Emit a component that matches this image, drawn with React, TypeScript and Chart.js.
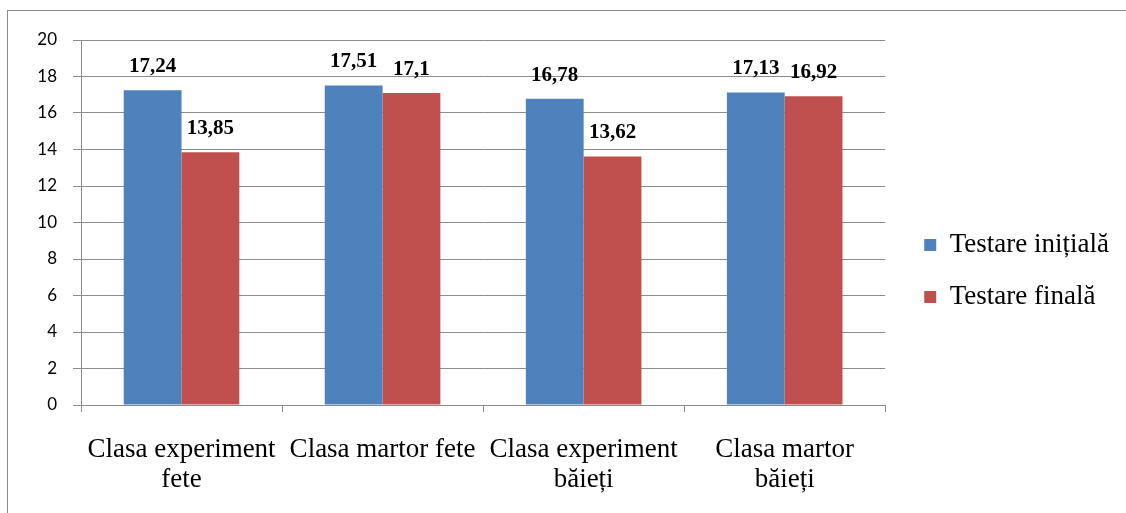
import React, { useEffect, useRef } from "react";
import { Chart, registerables } from "chart.js";

Chart.register(...registerables);

const categories: (string | string[])[] = [
  ["Clasa experiment", "fete"],
  "Clasa martor fete",
  ["Clasa experiment", "băieți"],
  ["Clasa martor", "băieți"],
];
const seriesNames = ["Testare inițială", "Testare finală"];
const initialValues = [17.24, 17.51, 16.78, 17.13];
const finalValues = [13.85, 17.1, 13.62, 16.92];
const initialLabels = ["17,24", "17,51", "16,78", "17,13"];
const finalLabels = ["13,85", "17,1", "13,62", "16,92"];
const yTicks = [0, 2, 4, 6, 8, 10, 12, 14, 16, 18, 20];

const BLUE = "#4F81BD";
const RED = "#C0504D";
const GRID = "#8c8c8c";

const valueLabelPlugin = {
  id: "valueLabels",
  afterDatasetsDraw(chart: any) {
    const ctx = chart.ctx;
    const labelSets = [initialLabels, finalLabels];
    ctx.save();
    ctx.font = "bold 21px 'Liberation Serif', 'Times New Roman', serif";
    ctx.fillStyle = "#000";
    ctx.textAlign = "center";
    ctx.textBaseline = "alphabetic";
    chart.data.datasets.forEach((_: any, di: number) => {
      const meta = chart.getDatasetMeta(di);
      meta.data.forEach((bar: any, i: number) => {
        ctx.fillText(labelSets[di][i], bar.x, bar.y - 18);
      });
    });
    ctx.restore();
  },
};

const legendShiftPlugin = {
  id: "legendShift",
  afterLayout(chart: any) {
    const lg = chart.legend;
    if (lg) {
      lg.left += 14;
      lg.right += 14;
    }
  },
};

export default function App() {
  const canvasRef = useRef<HTMLCanvasElement | null>(null);

  useEffect(() => {
    if (!canvasRef.current) return;
    const chart = new Chart(canvasRef.current, {
      type: "bar",
      data: {
        labels: categories,
        datasets: [
          {
            label: seriesNames[0],
            data: initialValues,
            backgroundColor: BLUE,
            borderWidth: 0,
            barPercentage: 1,
            categoryPercentage: 0.575,
          },
          {
            label: seriesNames[1],
            data: finalValues,
            backgroundColor: RED,
            borderWidth: 0,
            barPercentage: 1,
            categoryPercentage: 0.575,
          },
        ],
      },
      options: {
        responsive: false,
        animation: false,
        maintainAspectRatio: false,
        layout: { padding: { left: 0, top: 40, right: 21, bottom: 11 } },
        plugins: {
          legend: {
            position: "right",
            labels: {
              boxWidth: 12,
              boxHeight: 12,
              padding: 25,
              color: "#000",
              font: { family: "'Liberation Serif', 'Times New Roman', serif", size: 27 },
            },
          },
          tooltip: { enabled: false },
          title: { display: false },
        },
        scales: {
          x: {
            grid: {
              display: true,
              drawOnChartArea: false,
              drawTicks: true,
              tickLength: 7,
              color: GRID,
              offset: true,
            },
            border: { display: true, color: GRID },
            ticks: {
              autoSkip: false,
              maxRotation: 0,
              minRotation: 0,
              color: "#000",
              padding: 23,
              font: { family: "'Liberation Serif', 'Times New Roman', serif", size: 27, lineHeight: 1.11 },
            },
            afterFit(scale: any) {
              scale.height = 97;
            },
          },
          y: {
            min: 0,
            max: 20,
            afterBuildTicks(scale: any) {
              scale.ticks = yTicks.map((v) => ({ value: v }));
            },
            grid: {
              color: GRID,
              drawTicks: true,
              tickLength: 8,
            },
            border: { display: true, color: GRID },
            ticks: {
              color: "#000",
              padding: 16,
              font: { family: "Lato, 'Open Sans', sans-serif", size: 17 },
            },
            afterFit(scale: any) {
              scale.width = 81;
            },
          },
        },
      },
      plugins: [valueLabelPlugin, legendShiftPlugin],
    });
    return () => chart.destroy();
  }, []);

  return (
    <div
      style={{
        position: "fixed",
        left: 0,
        top: 0,
        width: 1126,
        height: 513,
        overflow: "hidden",
        background: "#fff",
      }}
    >
      <div
        style={{
          position: "absolute",
          left: 7,
          top: 10,
          width: 1300,
          height: 700,
          border: "1px solid #8c8c8c",
          boxSizing: "border-box",
        }}
      />
      <canvas
        ref={canvasRef}
        width={1126}
        height={513}
        style={{ position: "absolute", left: 0, top: 0, width: 1126, height: 513 }}
      />
    </div>
  );
}
